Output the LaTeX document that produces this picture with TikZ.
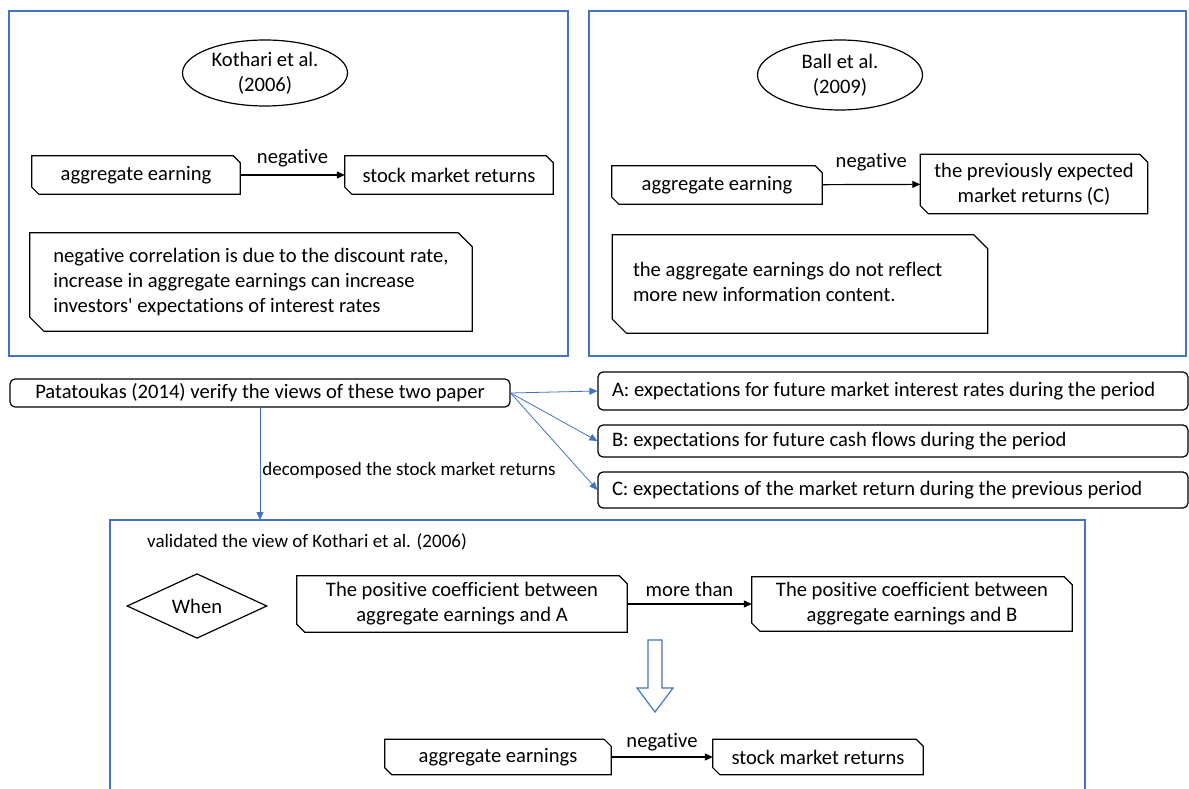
\documentclass[tikz,border=0pt]{standalone}
\usepackage{fontspec}
\setmainfont{Carlito}
\newfontfamily\carl{Carlito}[Ligatures=NoCommon]
\usetikzlibrary{shapes.geometric,arrows.meta}
\definecolor{pblue}{RGB}{68,114,196}
\newcommand{\fmain}{\carl\fontsize{20.6}{25}\selectfont}
\newcommand{\fsmall}{\carl\fontsize{19}{22}\selectfont}
\newcommand{\snipdraw}[2]{\draw[line width=1.2pt,line join=miter] (#1.north west) -- ([xshift=-#2]#1.north east) -- ([yshift=-#2]#1.north east) -- (#1.south east) -- ([xshift=#2]#1.south west) -- ([yshift=#2]#1.south west) -- cycle;}
\begin{document}
\begin{tikzpicture}[x=1pt,y=-1pt,
  panel/.style={draw=pblue,line width=1.3pt},
  snip/.style={rectangle,align=center,inner sep=0pt,font=\fmain},
  bigsnip/.style={snip,align=left},
  oval/.style={ellipse,draw=black,line width=1.2pt,inner sep=0pt,align=center,font=\fmain},
  rbox/.style={draw=black,line width=1.2pt,rounded corners=5pt,inner xsep=14pt,inner ysep=0pt,font=\fmain},
  larrow/.style={draw=black,line width=1.2pt,-{Triangle[length=8pt,width=7pt]}},
  barrow/.style={draw=pblue,line width=0.8pt,-{Triangle[length=8pt,width=7pt]}},
  lbl/.style={font=\fmain,above,inner sep=3pt}]
\useasboundingbox (0,0) rectangle (1189,789);
\fill[white] (0,0) rectangle (1189,789);
% panels
\draw[panel] (9,11) rectangle (568,356);
\draw[panel] (589,11) rectangle (1186,356);
\draw[panel] (110,795) -- (110,520) -- (1085,520) -- (1085,795);
% left panel
\node[oval,minimum width=165pt,minimum height=66pt] (ell1) at (265,73) {Kothari et al.\\(2006)};
\node[snip,minimum width=208pt,minimum height=38pt] (ag1) at (136,175) {aggregate earning};
\snipdraw{ag1}{7pt}
\node[snip,minimum width=208pt,minimum height=38pt] (sm1) at (449,175) {stock market returns};
\snipdraw{sm1}{7pt}
\draw[larrow] (ag1) -- node[lbl,yshift=4pt] {negative} (sm1);
\node[bigsnip,minimum width=442pt,minimum height=98pt] (tx1) at (251,282) {negative correlation is due to the discount rate,\\increase in aggregate earnings can increase\\investors' expectations of interest rates};
\snipdraw{tx1}{14pt}
% right panel
\node[oval,minimum width=165pt,minimum height=70pt] (ell2) at (840,75) {Ball et al.\\(2009)};
\node[snip,minimum width=210pt,minimum height=38pt] (ag2) at (717,185) {aggregate earning};
\snipdraw{ag2}{7pt}
\node[snip,minimum width=227pt,minimum height=59pt] (pe) at (1034,184) {the previously expected\\market returns (C)};
\snipdraw{pe}{8pt}
\draw[larrow] (ag2) -- node[lbl,yshift=10pt] {negative} (pe);
\node[snip,minimum width=375pt,minimum height=98pt] (tx2) at (800,284) {\makebox[334pt][l]{\begin{tabular}{@{}l@{}}the aggregate earnings do not reflect\\more new information content.\end{tabular}}};
\snipdraw{tx2}{14pt}
% middle
\node[draw=black,line width=1.2pt,rounded corners=5pt,inner sep=0pt,minimum width=500pt,minimum height=28pt,font=\fmain] (pat) at (260,393) {Patatoukas (2014) verify the views of these two paper};
\node[rbox,minimum height=38pt] (A) at (893,391) {\makebox[562pt][l]{A: expectations for future market interest rates during the period}};
\node[rbox,minimum height=32pt] (B) at (893,441) {\makebox[562pt][l]{B: expectations for future cash flows during the period}};
\node[rbox,minimum height=36pt] (C) at (893,490) {\makebox[562pt][l]{C: expectations of the market return during the previous period}};
\draw[barrow] (pat.east) -- (A.west);
\draw[barrow] (pat.east) -- (B.west);
\draw[barrow] (pat.east) -- (C.west);
\coordinate (ptop) at (260,520);
\draw[barrow] (pat.south) -- node[right,font=\fsmall,inner sep=2pt,pos=0.56] {decomposed the stock market returns} (ptop);
% bottom panel
\node[anchor=west,font=\fsmall,inner sep=0pt] (val) at (147,542) {validated the view of Kothari et al. (2006)};
\node[diamond,draw=black,line width=1.2pt,inner sep=0pt,minimum width=140pt,minimum height=58pt,font=\fmain] (when) at (197,606) {When};
\node[snip,minimum width=330pt,minimum height=56pt] (PA) at (462,604) {The positive coefficient between\\aggregate earnings and A};
\snipdraw{PA}{8pt}
\node[snip,minimum width=320pt,minimum height=54pt] (PB) at (912,604) {The positive coefficient between\\aggregate earnings and B};
\snipdraw{PB}{8pt}
\draw[larrow] (PA) -- node[lbl,yshift=4pt] {more than} (PB);
\draw[draw=pblue,line width=1.2pt,fill=white] (648,640) -- (662,640) -- (662,688) -- (673,688) -- (655,712) -- (637,688) -- (648,688) -- cycle;
\node[snip,minimum width=226pt,minimum height=35pt] (bag) at (498,757) {aggregate earnings};
\snipdraw{bag}{7pt}
\node[snip,minimum width=210pt,minimum height=35pt] (bsm) at (818,757) {stock market returns};
\snipdraw{bsm}{7pt}
\draw[larrow] (bag) -- node[lbl,yshift=2pt] {negative} (bsm);
\end{tikzpicture}
\end{document}
